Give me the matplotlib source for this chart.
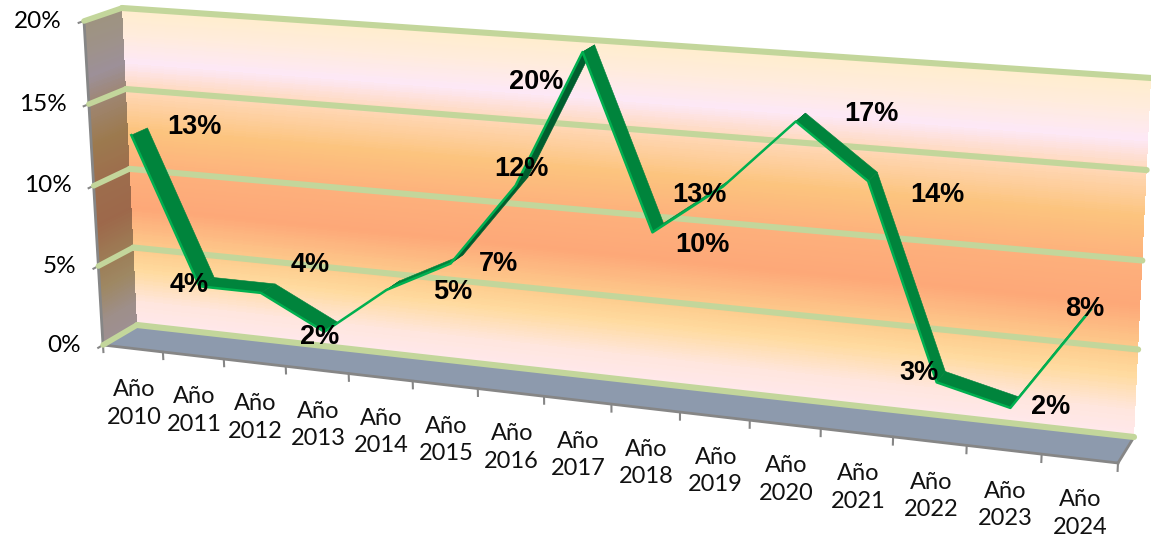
import numpy as np
import matplotlib
matplotlib.use("Agg")
import matplotlib.pyplot as plt
from matplotlib.transforms import Transform
from matplotlib.colors import LinearSegmentedColormap, to_rgb
from matplotlib.collections import PolyCollection

# ---- data ----
years = ["2010", "2011", "2012", "2013", "2014", "2015", "2016", "2017",
         "2018", "2019", "2020", "2021", "2022", "2023", "2024"]
values = [13, 4, 4, 2, 5, 7, 12, 20, 10, 13, 17, 14, 3, 2, 8]
value_ticks = [0, 5, 10, 15, 20]

# ---- layout (pixel corners of the 3D box: bottom-left, bottom-right, top-right, top-left) ----
WALL = np.array([(137, 325), (1134, 437), (1151, 78), (122, 8)], float)
FRONT = np.array([(103, 345), (1118, 463), (1137, 97), (84, 21)], float)
D_NEAR, D_FAR = 0.28, 0.73
label_offsets = [(55, -5), (-17, 3), (42, -24), (-11, 10), (60, 7), (42, 5), (0, -12), (-52, 33),
                 (45, 17), (-29, 13), (71, -3), (65, 18), (-22, -4), (36, 5), (-10, 5)]

GRID = "#C3D69B"
AXIS = "#868686"
FLOOR = "#8D9AAD"
stops = [(0, "#FFE8EC"), (1.5, "#FFE6DE"), (3.5, "#FFDBA0"), (5, "#FDCB8C"), (7.5, "#FDA878"),
         (10, "#FDB07C"), (12.5, "#FCC47E"), (15, "#FFD8B8"), (16.7, "#FDE8F6"),
         (18.5, "#FFECDC"), (20, "#FFEDCD")]
wall_cmap = LinearSegmentedColormap.from_list("wall", [(v / 20, c) for v, c in stops])
side_cmap = LinearSegmentedColormap.from_list(
    "side", [(v / 20, tuple(0.62 * x for x in to_rgb(c))) for v, c in stops])


class Plane(Transform):
    """Perspective map from (x, value) on a plane of the 3D box to pixels."""
    input_dims = output_dims = 2
    is_separable = False
    has_inverse = False

    def __init__(self, quad, xmax, ymax=20):
        super().__init__()
        src = np.array([(0, 0), (xmax, 0), (xmax, ymax), (0, ymax)], float)
        A, b = [], []
        for (x, y), (u, v) in zip(src, quad):
            A.append([x, y, 1, 0, 0, 0, -u * x, -u * y]); b.append(u)
            A.append([0, 0, 0, x, y, 1, -v * x, -v * y]); b.append(v)
        self.h = np.append(np.linalg.solve(np.array(A), np.array(b)), 1).reshape(3, 3)

    def transform_non_affine(self, pts):
        pts = np.asarray(pts, float)
        p = np.c_[pts, np.ones(len(pts))] @ self.h.T
        return p[:, :2] / p[:, 2:]


class SideWall(Transform):
    """Map (depth, value) to pixels: depth 0 is the front plane, depth 1 the back wall."""
    input_dims = output_dims = 2
    is_separable = False
    has_inverse = False

    def __init__(self, front_plane, back_plane):
        super().__init__()
        self.front_plane, self.back_plane = front_plane, back_plane

    def transform_non_affine(self, pts):
        pts = np.asarray(pts, float)
        edge = np.c_[np.zeros(len(pts)), pts[:, 1]]
        d = pts[:, :1]
        return (1 - d) * self.front_plane.transform(edge) + d * self.back_plane.transform(edge)


n = len(years)
wall = Plane(WALL, n)
front = Plane(FRONT, n)
near = Plane(FRONT + D_NEAR * (WALL - FRONT), n)
far = Plane(FRONT + D_FAR * (WALL - FRONT), n)
mid = Plane(FRONT + 0.5 * (WALL - FRONT), n)
side = SideWall(front, wall)

plt.rcParams["font.family"] = ["Lato", "DejaVu Sans"]
fig = plt.figure(figsize=(11.51, 5.46), dpi=100, facecolor="white")
ax = fig.add_axes([0, 0, 1, 1])
ax.set_axis_off()
data = ax.transData

# walls
yy = np.linspace(0, 20, 201)
cc = ((yy[:-1] + yy[1:]) / 2).reshape(-1, 1)
ax.pcolormesh([0, n], yy, cc, cmap=wall_cmap, vmin=0, vmax=20, transform=wall + data, zorder=1)
ax.pcolormesh([0, 1], yy, cc, cmap=side_cmap, vmin=0, vmax=20, transform=side + data, zorder=1)

# floor
ax.fill([FRONT[0][0], WALL[0][0], WALL[1][0], FRONT[1][0]],
        [FRONT[0][1], WALL[0][1], WALL[1][1], FRONT[1][1]], color=FLOOR, lw=0, zorder=2)

# gridlines on back and side walls
for v in value_ticks:
    ax.plot([0, n], [v, v], color=GRID, lw=4.4, solid_capstyle="round", transform=wall + data, zorder=3)
    ax.plot([0, 1], [v, v], color=GRID, lw=4.0, solid_capstyle="round", transform=side + data, zorder=3)

# axes
ax.plot([0, 0], [0, 20], color=AXIS, lw=2, transform=side + data, zorder=2.5)
ax.plot([0, n], [0, 0], color=AXIS, lw=2, transform=front + data, zorder=2.5)
ax.plot([FRONT[1][0], WALL[1][0]], [FRONT[1][1], WALL[1][1]], color=AXIS, lw=2, zorder=2.5)
for i in range(n + 1):
    ax.plot([i, i], [0, -0.45], color=AXIS, lw=1.5, transform=front + data, zorder=2.5)
for v in value_ticks:
    ax.plot([0, -0.14], [v, v], color=AXIS, lw=1.5, transform=side + data, zorder=2.5)

# tick labels
for v in value_ticks:
    ax.annotate(f"{v}%", (0, v), xycoords=side + data, xytext=(-22, 0), textcoords="offset pixels",
                ha="right", va="center", fontsize=17.5, color="black", zorder=6)
for i, y in enumerate(years):
    ax.annotate(f"Año\n{y}", (i + 0.5, 0), xycoords=front + data, xytext=(1, -55),
                textcoords="offset pixels", ha="center", va="center", fontsize=17,
                linespacing=1.38, color="#111111", zorder=6)

# ribbon
cats = np.arange(n) + 0.5
pts = np.c_[cats, values]
pn, pf = near.transform(pts), far.transform(pts)
polys, faces = [], []
for i in range(n - 1):
    polys.append([pn[i], pn[i + 1], pf[i + 1], pf[i]])
    seg, dep = pn[i + 1] - pn[i], pf[i] - pn[i]
    faces.append("#00843C" if seg[0] * dep[1] - seg[1] * dep[0] < 0 else "#005E2E")
ax.add_collection(PolyCollection(polys, facecolors=faces, edgecolors=faces, linewidths=0.4, zorder=4))
ax.plot(cats, values, color="#00B050", lw=1.8, solid_joinstyle="round", transform=near + data, zorder=4.5)

# data labels
for c, v, (dx, dy) in zip(cats, values, label_offsets):
    ax.annotate(f"{v}%", (c, v), xycoords=mid + data, xytext=(dx, -dy), textcoords="offset pixels",
                ha="center", va="center", fontsize=19.5, fontweight="bold",
                family=["Liberation Sans", "DejaVu Sans"], color="black", zorder=7)

ax.set_xlim(0, 1151)
ax.set_ylim(546, 0)
fig.savefig("out.png", dpi=100)
